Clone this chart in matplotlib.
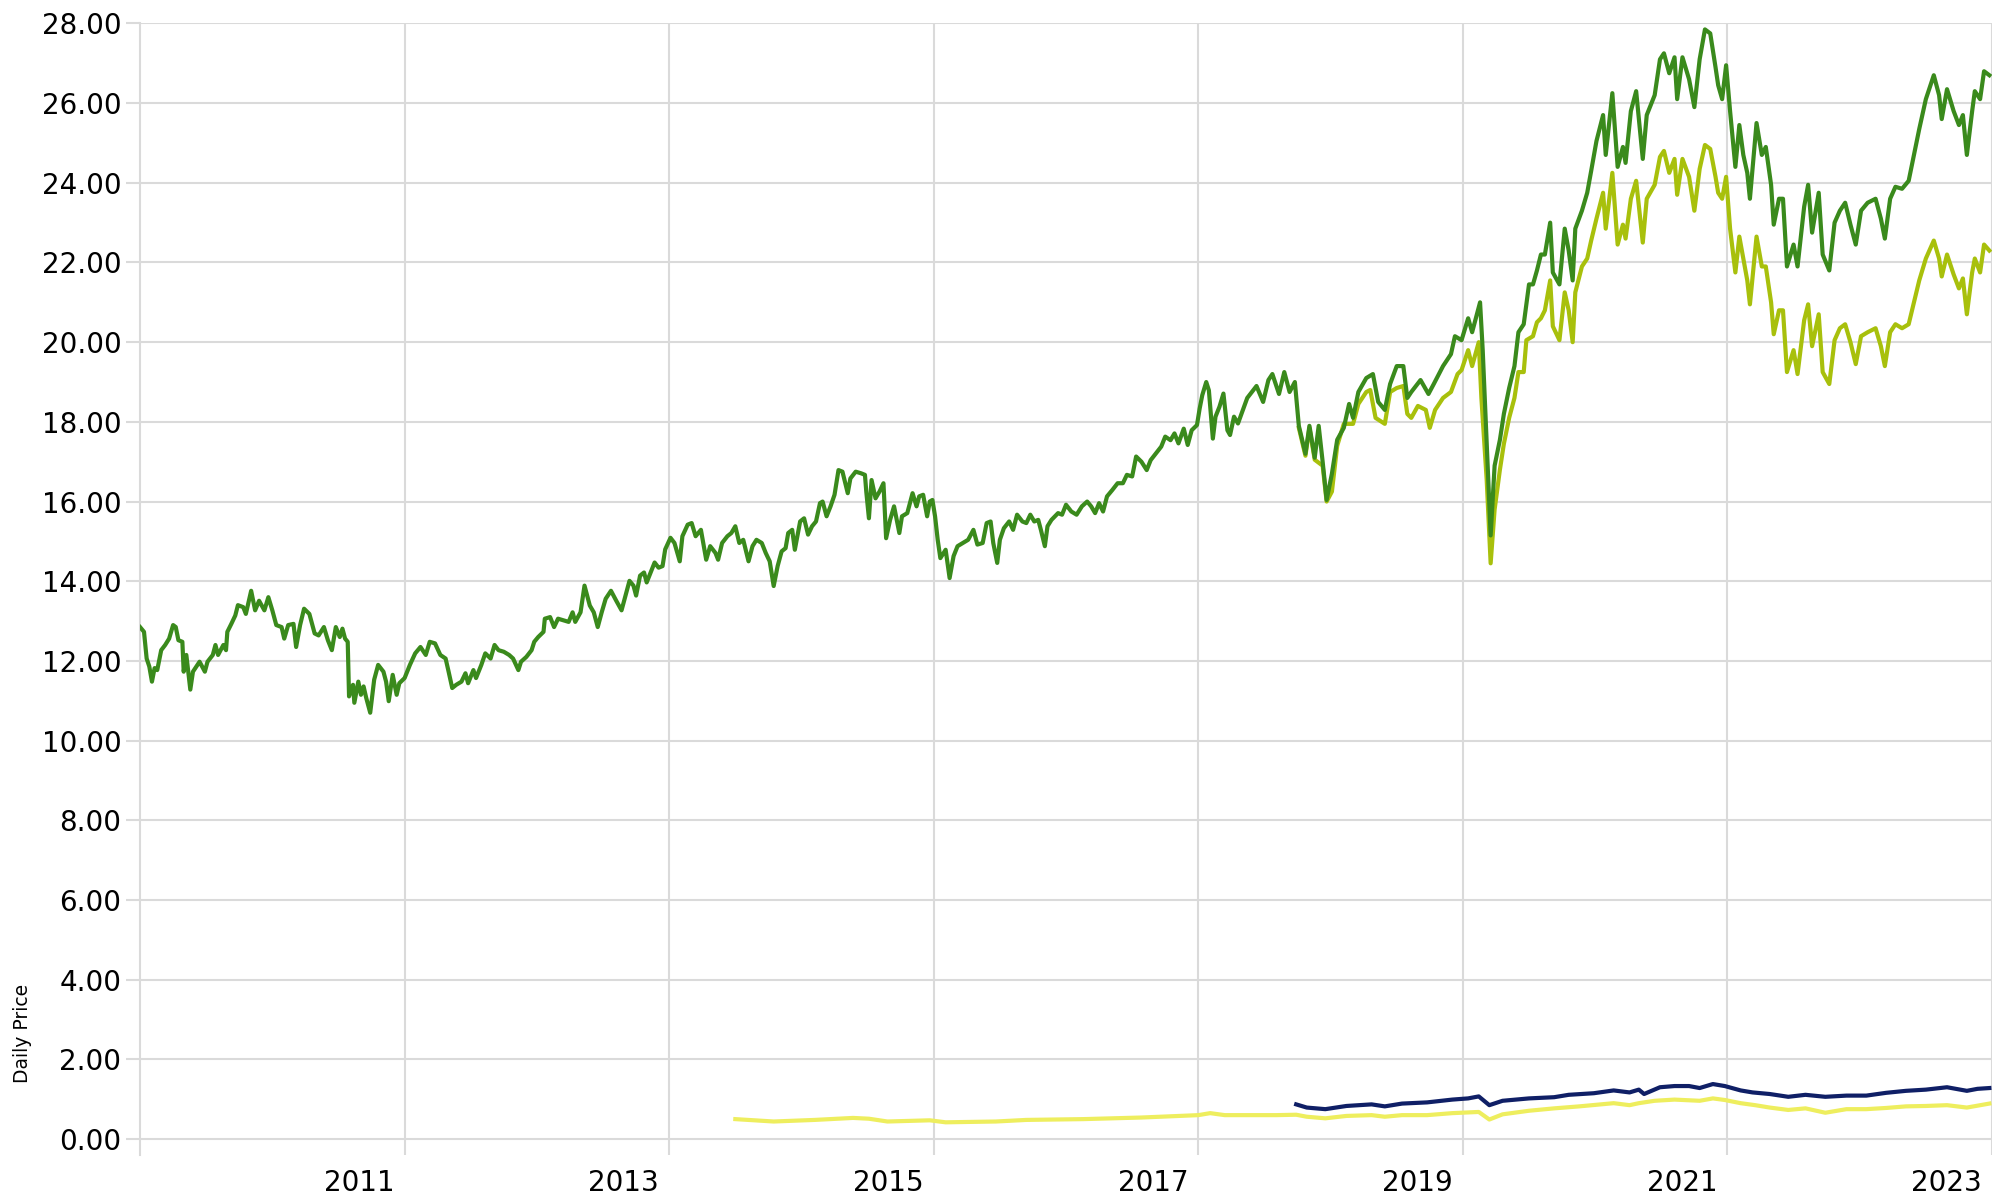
import matplotlib.pyplot as plt
from matplotlib.transforms import ScaledTranslation

# fund A (dark green), full history
green_x = [2010.00, 2010.03, 2010.05, 2010.07, 2010.09, 2010.11, 2010.13, 2010.16, 2010.19, 2010.22,
           2010.25, 2010.27, 2010.29, 2010.32, 2010.33, 2010.35, 2010.38, 2010.40, 2010.45, 2010.49,
           2010.51, 2010.55, 2010.57, 2010.59, 2010.63, 2010.65, 2010.66, 2010.69, 2010.72, 2010.74,
           2010.78, 2010.80, 2010.84, 2010.87, 2010.90, 2010.94, 2010.97, 2011.00, 2011.03, 2011.07,
           2011.09, 2011.12, 2011.16, 2011.18, 2011.21, 2011.24, 2011.28, 2011.32, 2011.35, 2011.39,
           2011.42, 2011.45, 2011.48, 2011.51, 2011.53, 2011.55, 2011.57, 2011.58, 2011.61, 2011.62,
           2011.65, 2011.67, 2011.69, 2011.71, 2011.74, 2011.77, 2011.80, 2011.84, 2011.86, 2011.88,
           2011.91, 2011.94, 2011.96, 2012.00, 2012.04, 2012.08, 2012.12, 2012.16, 2012.19, 2012.23,
           2012.27, 2012.31, 2012.33, 2012.36, 2012.39, 2012.43, 2012.46, 2012.48, 2012.52, 2012.54,
           2012.58, 2012.61, 2012.65, 2012.68, 2012.71, 2012.75, 2012.79, 2012.82, 2012.86, 2012.88,
           2012.92, 2012.96, 2012.98, 2013.01, 2013.05, 2013.06, 2013.10, 2013.13, 2013.16, 2013.20,
           2013.24, 2013.27, 2013.29, 2013.33, 2013.36, 2013.40, 2013.43, 2013.46, 2013.49, 2013.52,
           2013.56, 2013.60, 2013.64, 2013.67, 2013.70, 2013.73, 2013.75, 2013.78, 2013.81, 2013.83,
           2013.86, 2013.89, 2013.92, 2013.95, 2013.97, 2014.01, 2014.04, 2014.08, 2014.10, 2014.14,
           2014.17, 2014.20, 2014.24, 2014.28, 2014.31, 2014.35, 2014.37, 2014.40, 2014.44, 2014.47,
           2014.50, 2014.53, 2014.56, 2014.60, 2014.63, 2014.66, 2014.70, 2014.73, 2014.76, 2014.79,
           2014.82, 2014.85, 2014.88, 2014.90, 2014.93, 2014.95, 2014.99, 2015.02, 2015.05, 2015.08,
           2015.11, 2015.14, 2015.16, 2015.19, 2015.22, 2015.25, 2015.28, 2015.31, 2015.35, 2015.37,
           2015.41, 2015.45, 2015.48, 2015.49, 2015.51, 2015.53, 2015.56, 2015.59, 2015.62, 2015.64,
           2015.67, 2015.70, 2015.72, 2015.74, 2015.76, 2015.80, 2015.84, 2015.87, 2015.89, 2015.92,
           2015.95, 2015.97, 2015.99, 2016.01, 2016.03, 2016.05, 2016.09, 2016.12, 2016.15, 2016.18,
           2016.22, 2016.26, 2016.30, 2016.33, 2016.37, 2016.40, 2016.43, 2016.45, 2016.48, 2016.50,
           2016.53, 2016.57, 2016.60, 2016.63, 2016.67, 2016.70, 2016.73, 2016.76, 2016.79, 2016.81,
           2016.84, 2016.86, 2016.89, 2016.94, 2016.97, 2017.00, 2017.04, 2017.08, 2017.12, 2017.16,
           2017.19, 2017.22, 2017.25, 2017.28, 2017.31, 2017.35, 2017.39, 2017.43, 2017.46, 2017.50,
           2017.53, 2017.57, 2017.61, 2017.64, 2017.68, 2017.72, 2017.75, 2017.79, 2017.82, 2017.85,
           2017.89, 2017.92, 2017.95, 2017.99, 2018.01, 2018.03, 2018.06, 2018.08, 2018.11, 2018.13,
           2018.16, 2018.19, 2018.22, 2018.24, 2018.27, 2018.30, 2018.37, 2018.44, 2018.49, 2018.53,
           2018.56, 2018.61, 2018.65, 2018.69, 2018.73, 2018.76, 2018.81, 2018.84, 2018.88, 2018.91,
           2018.94, 2018.97, 2019.01, 2019.05, 2019.10, 2019.14, 2019.17, 2019.21, 2019.27, 2019.32,
           2019.36, 2019.41, 2019.45, 2019.50, 2019.55, 2019.58, 2019.61, 2019.68, 2019.74, 2019.78,
           2019.85, 2019.91, 2019.94, 2019.99, 2020.04, 2020.07, 2020.13, 2020.15, 2020.18, 2020.21,
           2020.24, 2020.28, 2020.31, 2020.35, 2020.39, 2020.42, 2020.46, 2020.50, 2020.53, 2020.56,
           2020.59, 2020.62, 2020.66, 2020.68, 2020.73, 2020.77, 2020.80, 2020.83, 2020.85, 2020.90,
           2020.94, 2020.97, 2021.01, 2021.06, 2021.08, 2021.13, 2021.17, 2021.21, 2021.23, 2021.27,
           2021.31, 2021.36, 2021.39, 2021.45, 2021.49, 2021.52, 2021.56, 2021.60, 2021.62, 2021.66,
           2021.71, 2021.75, 2021.79, 2021.83, 2021.87, 2021.91, 2021.93, 2021.96, 2021.99, 2022.02,
           2022.06, 2022.09, 2022.12, 2022.15, 2022.17, 2022.22, 2022.26, 2022.29, 2022.33, 2022.35,
           2022.39, 2022.42, 2022.45, 2022.50, 2022.53, 2022.58, 2022.61, 2022.64, 2022.69, 2022.72,
           2022.77, 2022.81, 2022.85, 2022.89, 2022.93, 2022.97, 2023.01, 2023.06, 2023.12, 2023.16,
           2023.19, 2023.23, 2023.27, 2023.32, 2023.37, 2023.41, 2023.45, 2023.50, 2023.56, 2023.60,
           2023.62, 2023.66, 2023.71, 2023.75, 2023.78, 2023.81, 2023.85, 2023.87, 2023.91, 2023.94,
           2023.98]
green_y = [12.85, 12.73, 12.06, 11.86, 11.48, 11.82, 11.77, 12.27, 12.40, 12.56,
           12.90, 12.85, 12.52, 12.48, 11.73, 12.15, 11.28, 11.73, 11.98, 11.73,
           11.98, 12.15, 12.40, 12.15, 12.40, 12.27, 12.73, 12.93, 13.14, 13.40,
           13.35, 13.18, 13.76, 13.27, 13.51, 13.27, 13.60, 13.27, 12.90, 12.85,
           12.56, 12.90, 12.93, 12.35, 12.90, 13.31, 13.18, 12.69, 12.64, 12.85,
           12.52, 12.27, 12.85, 12.60, 12.81, 12.56, 12.48, 11.11, 11.40, 10.95,
           11.48, 11.15, 11.36, 11.07, 10.70, 11.53, 11.90, 11.73, 11.48, 10.99,
           11.65, 11.15, 11.44, 11.57, 11.90, 12.19, 12.35, 12.15, 12.48, 12.44,
           12.15, 12.06, 11.77, 11.32, 11.40, 11.48, 11.69, 11.44, 11.77, 11.57,
           11.90, 12.19, 12.06, 12.40, 12.27, 12.23, 12.15, 12.06, 11.77, 11.98,
           12.10, 12.27, 12.48, 12.60, 12.73, 13.06, 13.10, 12.85, 13.06, 13.02,
           12.98, 13.22, 12.98, 13.22, 13.89, 13.39, 13.22, 12.85, 13.22, 13.56,
           13.76, 13.51, 13.27, 13.64, 14.01, 13.89, 13.64, 14.14, 14.22, 13.97,
           14.22, 14.47, 14.34, 14.38, 14.80, 15.09, 14.96, 14.50, 15.13, 15.42,
           15.46, 15.13, 15.29, 14.54, 14.88, 14.71, 14.54, 14.96, 15.13, 15.21,
           15.38, 14.96, 15.04, 14.50, 14.88, 15.04, 14.96, 14.71, 14.50, 13.88,
           14.38, 14.75, 14.83, 15.21, 15.29, 14.79, 15.50, 15.58, 15.17, 15.38,
           15.50, 15.96, 16.00, 15.63, 15.88, 16.17, 16.79, 16.75, 16.21, 16.58,
           16.75, 16.71, 16.67, 16.25, 15.58, 16.54, 16.08, 16.25, 16.46, 15.08,
           15.54, 15.88, 15.54, 15.21, 15.63, 15.71, 16.21, 15.88, 16.13, 16.17,
           15.63, 16.00, 16.04, 15.63, 15.04, 14.58, 14.79, 14.08, 14.63, 14.88,
           14.96, 15.04, 15.29, 14.92, 14.96, 15.46, 15.50, 14.96, 14.46, 15.04,
           15.33, 15.50, 15.29, 15.67, 15.50, 15.46, 15.67, 15.50, 15.54, 15.29,
           14.88, 15.38, 15.54, 15.71, 15.67, 15.92, 15.75, 15.67, 15.88, 16.00,
           15.88, 15.71, 15.96, 15.75, 16.13, 16.29, 16.46, 16.46, 16.67, 16.63,
           17.13, 17.00, 16.79, 17.04, 17.21, 17.38, 17.63, 17.54, 17.71, 17.46,
           17.83, 17.42, 17.79, 17.92, 18.33, 18.67, 19.00, 18.79, 17.58, 18.13,
           18.38, 18.71, 17.79, 17.67, 18.13, 17.96, 18.60, 18.90, 18.50, 19.05,
           19.20, 18.70, 19.25, 18.75, 19.00, 17.90, 17.20, 17.90, 17.10, 17.90,
           17.00, 16.04, 16.70, 17.55, 17.85, 18.45, 18.10, 18.75, 19.10, 19.20,
           18.50, 18.30, 18.95, 19.40, 19.40, 18.60, 18.75, 19.05, 18.70, 18.95,
           19.40, 19.70, 20.15, 20.05, 20.60, 20.25, 21.00, 19.80, 17.50, 15.15,
           16.90, 17.55, 18.20, 18.85, 19.40, 20.25, 20.45, 21.45, 21.45, 21.80,
           22.20, 22.20, 23.00, 21.75, 21.45, 22.85, 22.30, 21.55, 22.85, 23.30,
           23.75, 24.30, 25.05, 25.70, 24.70, 26.25, 24.40, 24.90, 24.50, 25.80,
           26.30, 24.60, 25.70, 26.20, 27.10, 27.25, 26.75, 27.15, 26.10, 27.15,
           26.60, 25.90, 27.10, 27.85, 27.75, 26.90, 26.45, 26.10, 26.95, 25.80,
           24.40, 25.45, 24.70, 24.25, 23.60, 25.50, 24.70, 24.90, 23.95, 22.95,
           23.60, 23.60, 21.90, 22.45, 21.90, 23.40, 23.95, 22.75, 23.75, 22.20,
           21.80, 23.00, 23.30, 23.50, 22.95, 22.45, 23.30, 23.50, 23.60, 23.10,
           22.60, 23.60, 23.90, 23.85, 24.05, 24.70, 25.35, 26.10, 26.70, 26.20,
           25.60, 26.35, 25.80, 25.45, 25.70, 24.70, 25.80, 26.30, 26.10, 26.80,
           26.70]

# fund A, second share class (lime)
lime_x = [2018.76, 2018.81, 2018.84, 2018.88, 2018.94, 2018.97, 2019.01, 2019.05, 2019.10, 2019.17,
          2019.21, 2019.27, 2019.30, 2019.34, 2019.41, 2019.45, 2019.50, 2019.55, 2019.58, 2019.61,
          2019.66, 2019.72, 2019.75, 2019.79, 2019.85, 2019.91, 2019.96, 2019.99, 2020.04, 2020.07,
          2020.12, 2020.14, 2020.18, 2020.21, 2020.24, 2020.28, 2020.31, 2020.35, 2020.39, 2020.42,
          2020.46, 2020.48, 2020.53, 2020.56, 2020.59, 2020.62, 2020.66, 2020.68, 2020.73, 2020.77,
          2020.80, 2020.83, 2020.85, 2020.90, 2020.94, 2020.97, 2021.01, 2021.06, 2021.08, 2021.13,
          2021.17, 2021.21, 2021.23, 2021.27, 2021.31, 2021.36, 2021.39, 2021.45, 2021.49, 2021.52,
          2021.56, 2021.60, 2021.62, 2021.66, 2021.71, 2021.75, 2021.79, 2021.83, 2021.87, 2021.91,
          2021.93, 2021.96, 2021.99, 2022.02, 2022.06, 2022.09, 2022.12, 2022.15, 2022.17, 2022.22,
          2022.26, 2022.29, 2022.33, 2022.35, 2022.39, 2022.42, 2022.45, 2022.50, 2022.53, 2022.58,
          2022.61, 2022.64, 2022.69, 2022.72, 2022.77, 2022.81, 2022.85, 2022.89, 2022.93, 2022.97,
          2023.01, 2023.06, 2023.12, 2023.16, 2023.19, 2023.23, 2023.27, 2023.32, 2023.37, 2023.41,
          2023.45, 2023.50, 2023.56, 2023.60, 2023.62, 2023.66, 2023.71, 2023.75, 2023.78, 2023.81,
          2023.85, 2023.87, 2023.91, 2023.94, 2023.98]
lime_y = [17.85, 17.15, 17.85, 17.05, 16.90, 16.00, 16.25, 17.40, 17.95, 17.95,
          18.45, 18.75, 18.80, 18.10, 17.95, 18.75, 18.85, 18.90, 18.20, 18.10,
          18.40, 18.30, 17.85, 18.30, 18.60, 18.75, 19.20, 19.30, 19.80, 19.40,
          20.00, 18.60, 16.55, 14.45, 15.80, 16.80, 17.45, 18.10, 18.60, 19.25,
          19.25, 20.05, 20.15, 20.50, 20.60, 20.80, 21.55, 20.40, 20.05, 21.25,
          20.80, 20.00, 21.25, 21.90, 22.10, 22.55, 23.10, 23.75, 22.85, 24.25,
          22.45, 22.95, 22.60, 23.60, 24.05, 22.50, 23.60, 23.95, 24.65, 24.80,
          24.25, 24.60, 23.70, 24.60, 24.15, 23.30, 24.35, 24.95, 24.85, 24.15,
          23.75, 23.60, 24.15, 22.85, 21.75, 22.65, 22.10, 21.55, 20.95, 22.65,
          21.90, 21.90, 21.00, 20.20, 20.80, 20.80, 19.25, 19.80, 19.20, 20.55,
          20.95, 19.90, 20.70, 19.25, 18.95, 20.05, 20.35, 20.45, 20.00, 19.45,
          20.15, 20.25, 20.35, 19.90, 19.40, 20.25, 20.45, 20.35, 20.45, 21.00,
          21.55, 22.10, 22.55, 22.10, 21.65, 22.20, 21.70, 21.35, 21.60, 20.70,
          21.75, 22.10, 21.75, 22.45, 22.30]

# fund B (navy)
navy_x = [2018.74, 2018.82, 2018.96, 2019.12, 2019.31, 2019.41, 2019.54, 2019.73, 2019.92, 2020.04,
          2020.12, 2020.20, 2020.30, 2020.50, 2020.69, 2020.80, 2020.99, 2021.14, 2021.26, 2021.33,
          2021.37, 2021.49, 2021.60, 2021.71, 2021.79, 2021.89, 2021.98, 2022.10, 2022.19, 2022.32,
          2022.46, 2022.59, 2022.74, 2022.90, 2023.05, 2023.20, 2023.35, 2023.50, 2023.66, 2023.81,
          2023.89, 2023.98]
navy_y = [0.87, 0.79, 0.75, 0.83, 0.87, 0.82, 0.89, 0.92, 0.99, 1.02,
          1.07, 0.85, 0.96, 1.02, 1.05, 1.11, 1.15, 1.22, 1.17, 1.24,
          1.13, 1.30, 1.33, 1.33, 1.28, 1.38, 1.33, 1.22, 1.17, 1.13,
          1.06, 1.11, 1.06, 1.09, 1.09, 1.16, 1.21, 1.24, 1.30, 1.21,
          1.26, 1.28]

# fund C (light yellow)
yellow_x = [2014.50, 2014.79, 2015.10, 2015.39, 2015.51, 2015.65, 2015.97, 2016.09, 2016.47, 2016.70,
            2017.13, 2017.57, 2018.00, 2018.09, 2018.20, 2018.40, 2018.59, 2018.74, 2018.82, 2018.96,
            2019.12, 2019.31, 2019.41, 2019.54, 2019.73, 2019.92, 2020.12, 2020.20, 2020.30, 2020.50,
            2020.69, 2020.88, 2021.14, 2021.26, 2021.33, 2021.45, 2021.60, 2021.79, 2021.89, 2021.98,
            2022.10, 2022.21, 2022.32, 2022.46, 2022.59, 2022.74, 2022.90, 2023.05, 2023.20, 2023.35,
            2023.50, 2023.66, 2023.81, 2023.98]
yellow_y = [0.50, 0.44, 0.48, 0.53, 0.51, 0.44, 0.47, 0.42, 0.44, 0.48,
            0.50, 0.54, 0.60, 0.65, 0.60, 0.60, 0.60, 0.61, 0.56, 0.52,
            0.58, 0.60, 0.56, 0.60, 0.60, 0.65, 0.68, 0.49, 0.62, 0.71,
            0.77, 0.82, 0.90, 0.85, 0.90, 0.96, 0.99, 0.96, 1.02, 0.98,
            0.90, 0.85, 0.79, 0.73, 0.77, 0.66, 0.75, 0.75, 0.78, 0.82,
            0.83, 0.85, 0.79, 0.89]

y_ticks = [0, 2, 4, 6, 8, 10, 12, 14, 16, 18, 20, 22, 24, 26, 28]
x_ticks = [2012, 2014, 2016, 2018, 2020, 2022, 2024]
x_labels = ['2011', '2013', '2015', '2017', '2019', '2021', '2023']

grid_col = '#dadada'

fig = plt.figure(figsize=(19.92, 11.96), dpi=100)
ax = fig.add_axes([0.0703, 0.0343, 0.9297, 0.9461])

ax.plot(yellow_x, yellow_y, color='#eeee5e', lw=3.0, zorder=3)
ax.plot(navy_x, navy_y, color='#0f1f66', lw=3.0, zorder=3)
ax.plot(lime_x, lime_y, color='#a8c00c', lw=3.0, zorder=3)
ax.plot(green_x, green_y, color='#3a8a1c', lw=3.0, zorder=4)

ax.set_xlim(2010, 2024)
ax.set_ylim(-0.4, 28)

ax.set_yticks(y_ticks)
ax.set_yticklabels(['%.2f' % v for v in y_ticks])
ax.set_xticks(x_ticks)
ax.set_xticklabels(x_labels, ha='right')

ax.grid(True, color=grid_col, lw=1.5, zorder=0)
ax.set_axisbelow(True)

for s in ['top', 'right', 'bottom']:
    ax.spines[s].set_visible(False)
ax.spines['left'].set_color(grid_col)
ax.spines['left'].set_linewidth(1.5)

ax.tick_params(axis='y', length=10, width=1.5, color=grid_col, pad=3.5, labelsize=20)
ax.tick_params(axis='x', length=0, pad=10, labelsize=20)

off = ScaledTranslation(-0.10, 0, fig.dpi_scale_trans)
for lab in ax.get_xticklabels():
    lab.set_transform(lab.get_transform() + off)

fig.text(23 / 1992, 1 - 1033 / 1196, 'Daily Price', rotation=90,
         ha='center', va='center', fontsize=13.5)

fig.savefig('out.png', dpi=100)
